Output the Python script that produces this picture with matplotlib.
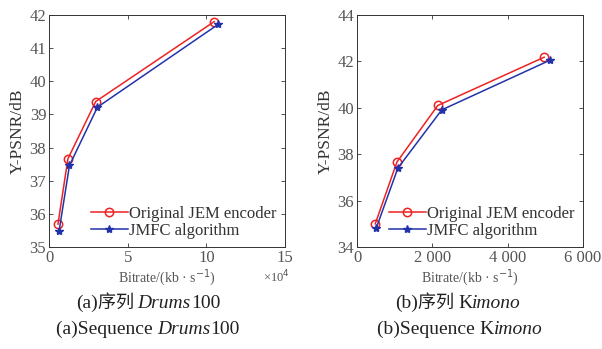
import matplotlib
matplotlib.use("Agg")
import matplotlib.pyplot as plt

# Drums100 (bitrate in 1e4 kb/s)
drums_orig_x = [0.57, 1.2, 2.97, 10.5]
drums_orig_y = [35.69, 37.66, 39.39, 41.8]
drums_jmfc_x = [0.64, 1.3, 3.08, 10.76]
drums_jmfc_y = [35.48, 37.46, 39.22, 41.72]

# Kimono (bitrate in kb/s)
kimono_orig_x = [485, 1059, 2144, 4968]
kimono_orig_y = [35.0, 37.66, 40.1, 42.18]
kimono_jmfc_x = [512, 1085, 2250, 5135]
kimono_jmfc_y = [34.82, 37.4, 39.91, 42.06]

serif = "Liberation Serif"
cjk = "Noto Sans CJK SC"
tick_col = "#555555"

fig = plt.figure(figsize=(6.02, 3.49), dpi=100)
W, H = 602, 349


def make_axes(box):
    l, t, r, b = box
    return fig.add_axes([l / W, 1 - b / H, (r - l) / W, (b - t) / H])


def style(ax):
    ax.tick_params(direction="in", top=True, right=True, length=3, pad=2,
                   labelsize=12, colors="#333333", labelcolor=tick_col, width=0.6)
    for lab in ax.get_xticklabels() + ax.get_yticklabels():
        lab.set_fontfamily(serif)
    for s in ax.spines.values():
        s.set_linewidth(0.7)
        s.set_color("#333333")
    ax.set_ylabel("Y-PSNR/dB", fontfamily=serif, fontsize=12.5, color="#333333", labelpad=3)
    ax.set_xlabel("Bitrate/(kb · s$^{-1}$)", fontfamily=serif, fontsize=10, color="#555555", labelpad=1)
    leg = ax.legend(loc="lower right", frameon=False, prop={"family": serif, "size": 12},
                    handlelength=2.2, handletextpad=0.1, borderaxespad=0.1, labelspacing=0.05)
    for t in leg.get_texts():
        t.set_color("#333333")


def plot_pair(ax, ox, oy, jx, jy):
    ax.plot(ox, oy, color="#ee2222", marker="o", mfc="none", ms=6, lw=1.1,
            mew=1.1, label="Original JEM encoder")
    ax.plot(jx, jy, color="#2233aa", marker="*", ms=6, lw=1.1, label="JMFC algorithm")


ax1 = make_axes((49, 15, 285, 247))
plot_pair(ax1, drums_orig_x, drums_orig_y, drums_jmfc_x, drums_jmfc_y)
ax1.set_xlim(0, 15)
ax1.set_ylim(35, 42)
ax1.set_xticks([0, 5, 10, 15])
ax1.set_yticks(range(35, 43))
style(ax1)
ax1.text(1.02, -0.128, "×10$^4$", transform=ax1.transAxes, fontsize=9,
         fontfamily=serif, color="#555555", va="center", ha="right")

ax2 = make_axes((357, 15, 583, 247))
plot_pair(ax2, kimono_orig_x, kimono_orig_y, kimono_jmfc_x, kimono_jmfc_y)
ax2.set_xlim(0, 6000)
ax2.set_ylim(34, 44)
ax2.set_xticks([0, 2000, 4000, 6000])
ax2.set_xticklabels(["0", "2 000", "4 000", "6 000"])
ax2.set_yticks(range(34, 45, 2))
style(ax2)

# captions built from pieces so CJK and italic Latin can be mixed
renderer = fig.canvas.get_renderer()


def caption(cx, y, pieces, size=14):
    objs = []
    for txt, fam, st in pieces:
        sz = size - 1 if fam == cjk else size
        objs.append(fig.text(0, 1 - y / H, txt, fontsize=sz, fontfamily=fam,
                             fontstyle=st, va="center", color="#222222"))
    widths = [o.get_window_extent(renderer).width for o in objs]
    x = cx - sum(widths) / 2
    for o, w in zip(objs, widths):
        o.set_x(x / W)
        x += w


caption(148, 303, [("(a)", serif, "normal"), ("序列 ", cjk, "normal"),
                   ("Drums", serif, "italic"), ("100", serif, "normal")])
caption(148, 329, [("(a)Sequence ", serif, "normal"),
                   ("Drums", serif, "italic"), ("100", serif, "normal")])
caption(458, 303, [("(b)", serif, "normal"), ("序列 ", cjk, "normal"), ("K", serif, "normal"),
                   ("imono", serif, "italic")])
caption(460, 329, [("(b)Sequence ", serif, "normal"), ("K", serif, "normal"),
                   ("imono", serif, "italic")])

fig.savefig("out.png", dpi=100)
